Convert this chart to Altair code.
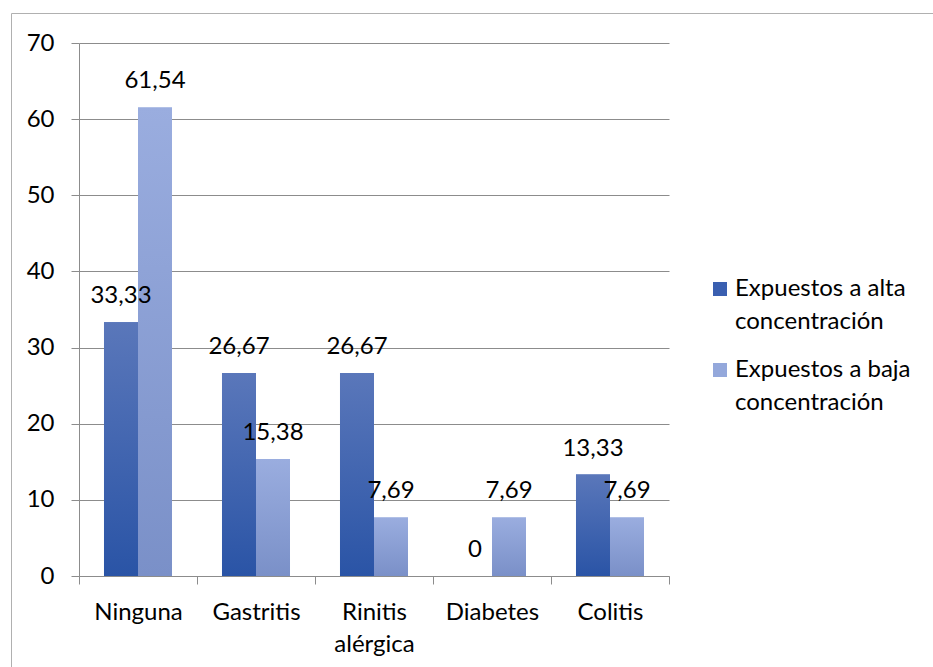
import altair as alt
import pandas as pd

# Afecciones reportadas (%) por grupo de exposición
categorias = ["Ninguna", "Gastritis", "Rinitis alérgica", "Diabetes", "Colitis"]
alta = [33.33, 26.67, 26.67, 0, 13.33]
baja = [61.54, 15.38, 7.69, 7.69, 7.69]
grupos = ["Expuestos a alta concentración", "Expuestos a baja concentración"]
ticks_y = [0, 10, 20, 30, 40, 50, 60, 70]

df = pd.DataFrame({
    "Enfermedad": categorias * 2,
    "Grupo": [grupos[0]] * len(categorias) + [grupos[1]] * len(categorias),
    "Porcentaje": alta + baja,
})

FONT = "Lato"
FS = 24
GRID = "#8c8c8c"

def degradado(arriba, abajo):
    return alt.Gradient(
        gradient="linear",
        stops=[alt.GradientStop(offset=0, color=arriba),
               alt.GradientStop(offset=1, color=abajo)],
        x1=0, x2=0, y1=0, y2=1,
    )

x_enc = alt.X(
    "Enfermedad:N", sort=categorias, title=None,
    scale=alt.Scale(paddingInner=0, paddingOuter=0),
    axis=alt.Axis(labelAngle=0, tickBand="extent", tickSize=8, labelPadding=16,
                  labelExpr="split(datum.label, ' ')", labelLineHeight=32,
                  labelFont=FONT, labelFontSize=FS, labelColor="#000000",
                  domainColor=GRID, tickColor=GRID),
)
y_enc = alt.Y(
    "Porcentaje:Q", title=None,
    scale=alt.Scale(domain=[0, 70], nice=False),
    axis=alt.Axis(values=ticks_y, tickSize=8, labelPadding=17, grid=True,
                  labelFont=FONT, labelFontSize=FS, labelColor="#000000",
                  gridColor=GRID, domainColor=GRID, tickColor=GRID),
)
off_enc = alt.XOffset(
    "Grupo:N", sort=grupos,
    scale=alt.Scale(domain=grupos, paddingInner=0, paddingOuter=0.735),
)

base = alt.Chart(df).encode(x=x_enc, y=y_enc, xOffset=off_enc)

# capa base: da la leyenda con colores planos
barras = base.mark_bar().encode(
    color=alt.Color(
        "Grupo:N", sort=grupos, title=None,
        scale=alt.Scale(domain=grupos, range=["#3a5fb0", "#94a8db"]),
        legend=alt.Legend(
            orient="none", legendX=629, legendY=234,
            symbolType="square", symbolSize=196, symbolStrokeWidth=0,
            labelFont=FONT, labelFontSize=FS, labelColor="#000000",
            labelLimit=400, labelOffset=3,
            rowPadding=24, padding=0,
            labelExpr="[slice(datum.label, 0, lastindexof(datum.label, ' ')), "
                      "slice(datum.label, lastindexof(datum.label, ' ') + 1)]",
        ),
    )
)

barras_alta = base.mark_bar(fill=degradado("#5a77ba", "#2a54a6")).transform_filter(
    alt.datum.Grupo == grupos[0]
)
barras_baja = base.mark_bar(fill=degradado("#9aaddf", "#7a90c8")).transform_filter(
    alt.datum.Grupo == grupos[1]
)

etiquetas = base.mark_text(
    font=FONT, fontSize=FS, color="#000000", baseline="middle", dy=-26
).transform_calculate(
    etiqueta="replace(toString(datum.Porcentaje), '.', ',')"
).encode(text="etiqueta:N")

# marco exterior (solo se ven los bordes izquierdo y superior)
marco = alt.Chart(pd.DataFrame({"k": [0]})).mark_rect(
    fillOpacity=0, stroke="#b0b0b0", strokeWidth=1
).encode(
    x=alt.value(-67.5), x2=alt.value(900), y=alt.value(-29.5), y2=alt.value(700)
)

chart = alt.layer(marco, barras, barras_alta, barras_baja, etiquetas).properties(
    width=590, height=533,
    autosize=alt.AutoSizeParams(type="none"),
    padding={"left": 79, "top": 43, "right": 264, "bottom": 91},
).configure(
    background="white",
    style={"guide-label": {"lineHeight": 33}},
).configure_view(stroke=None)

chart.save("out.html", embed_options={"renderer": "svg", "actions": False})
